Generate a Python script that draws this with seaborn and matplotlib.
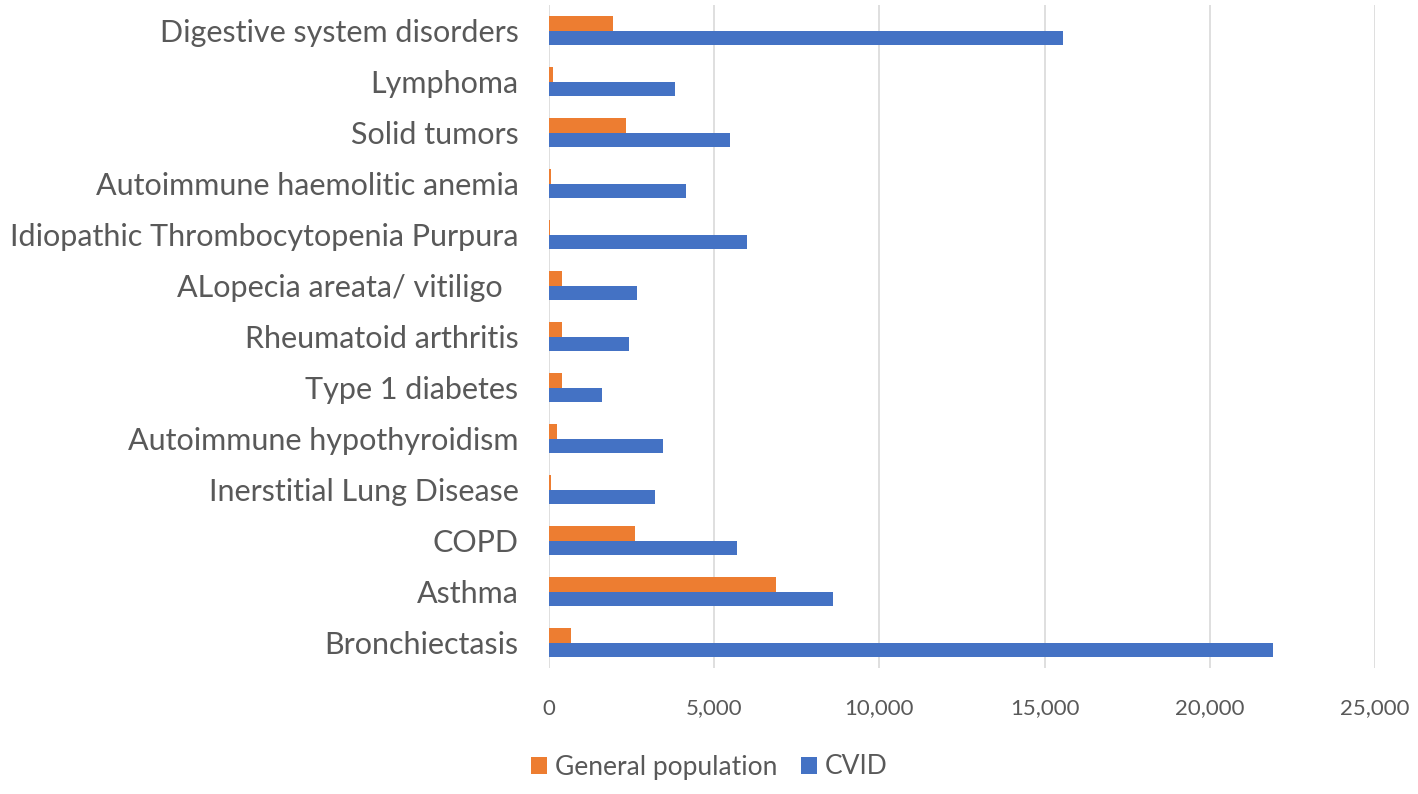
import matplotlib
matplotlib.use("Agg")
import matplotlib.pyplot as plt
import seaborn as sns
import pandas as pd
from matplotlib.ticker import FuncFormatter

# data (top to bottom)
conditions = [
    "Digestive system disorders",
    "Lymphoma",
    "Solid tumors",
    "Autoimmune haemolitic anemia",
    "Idiopathic Thrombocytopenia Purpura",
    "ALopecia areata/ vitiligo  ",
    "Rheumatoid arthritis",
    "Type 1 diabetes",
    "Autoimmune hypothyroidism",
    "Inerstitial Lung Disease",
    "COPD",
    "Asthma",
    "Bronchiectasis",
]
general_population = [1950, 130, 2330, 60, 40, 390, 400, 390, 240, 50, 2590, 6880, 670]
cvid = [15570, 3800, 5480, 4150, 6000, 2660, 2430, 1600, 3460, 3200, 5700, 8590, 21900]
groups = ["General population", "CVID"]
x_ticks = [0, 5000, 10000, 15000, 20000, 25000]

df = pd.DataFrame({
    "condition": conditions * 2,
    "value": general_population + cvid,
    "group": [groups[0]] * len(conditions) + [groups[1]] * len(conditions),
})

sns.set_theme(style="white")
plt.rcParams['font.family'] = ['Lato', 'DejaVu Sans']
text_color = "#595959"

fig = plt.figure(figsize=(14.18, 7.94), dpi=100)
ax = fig.add_axes([549 / 1418, 1 - 668 / 794, (1375 - 549) / 1418, (668 - 5) / 794])

sns.barplot(data=df, y="condition", x="value", hue="group", hue_order=groups,
            order=conditions, palette=["#ED7D31", "#4472C4"], orient="h",
            width=0.56, saturation=1, linewidth=0, ax=ax, legend=True)

ax.set_xlim(0, 25000)
ax.set_xticks(x_ticks)
ax.xaxis.set_major_formatter(FuncFormatter(lambda v, p: f"{int(v):,}"))
ax.grid(axis="x", color="#d9d9d9", linewidth=1.2)
ax.set_axisbelow(True)
for s in ax.spines.values():
    s.set_visible(False)
ax.set_xlabel("")
ax.set_ylabel("")
ax.tick_params(axis="x", labelsize=16, colors=text_color, pad=22, length=0)
ax.tick_params(axis="y", labelsize=22, colors=text_color, pad=22, length=0)

handles, labels = ax.get_legend_handles_labels()
ax.get_legend().remove()
fig.legend(handles, labels, loc="center", bbox_to_anchor=(0.5, 1 - 767 / 794),
           ncol=2, frameon=False, fontsize=19, labelcolor=text_color,
           handlelength=0.6, handleheight=0.6, handletextpad=0.3, columnspacing=0.9)

fig.savefig("out.png", dpi=100)
